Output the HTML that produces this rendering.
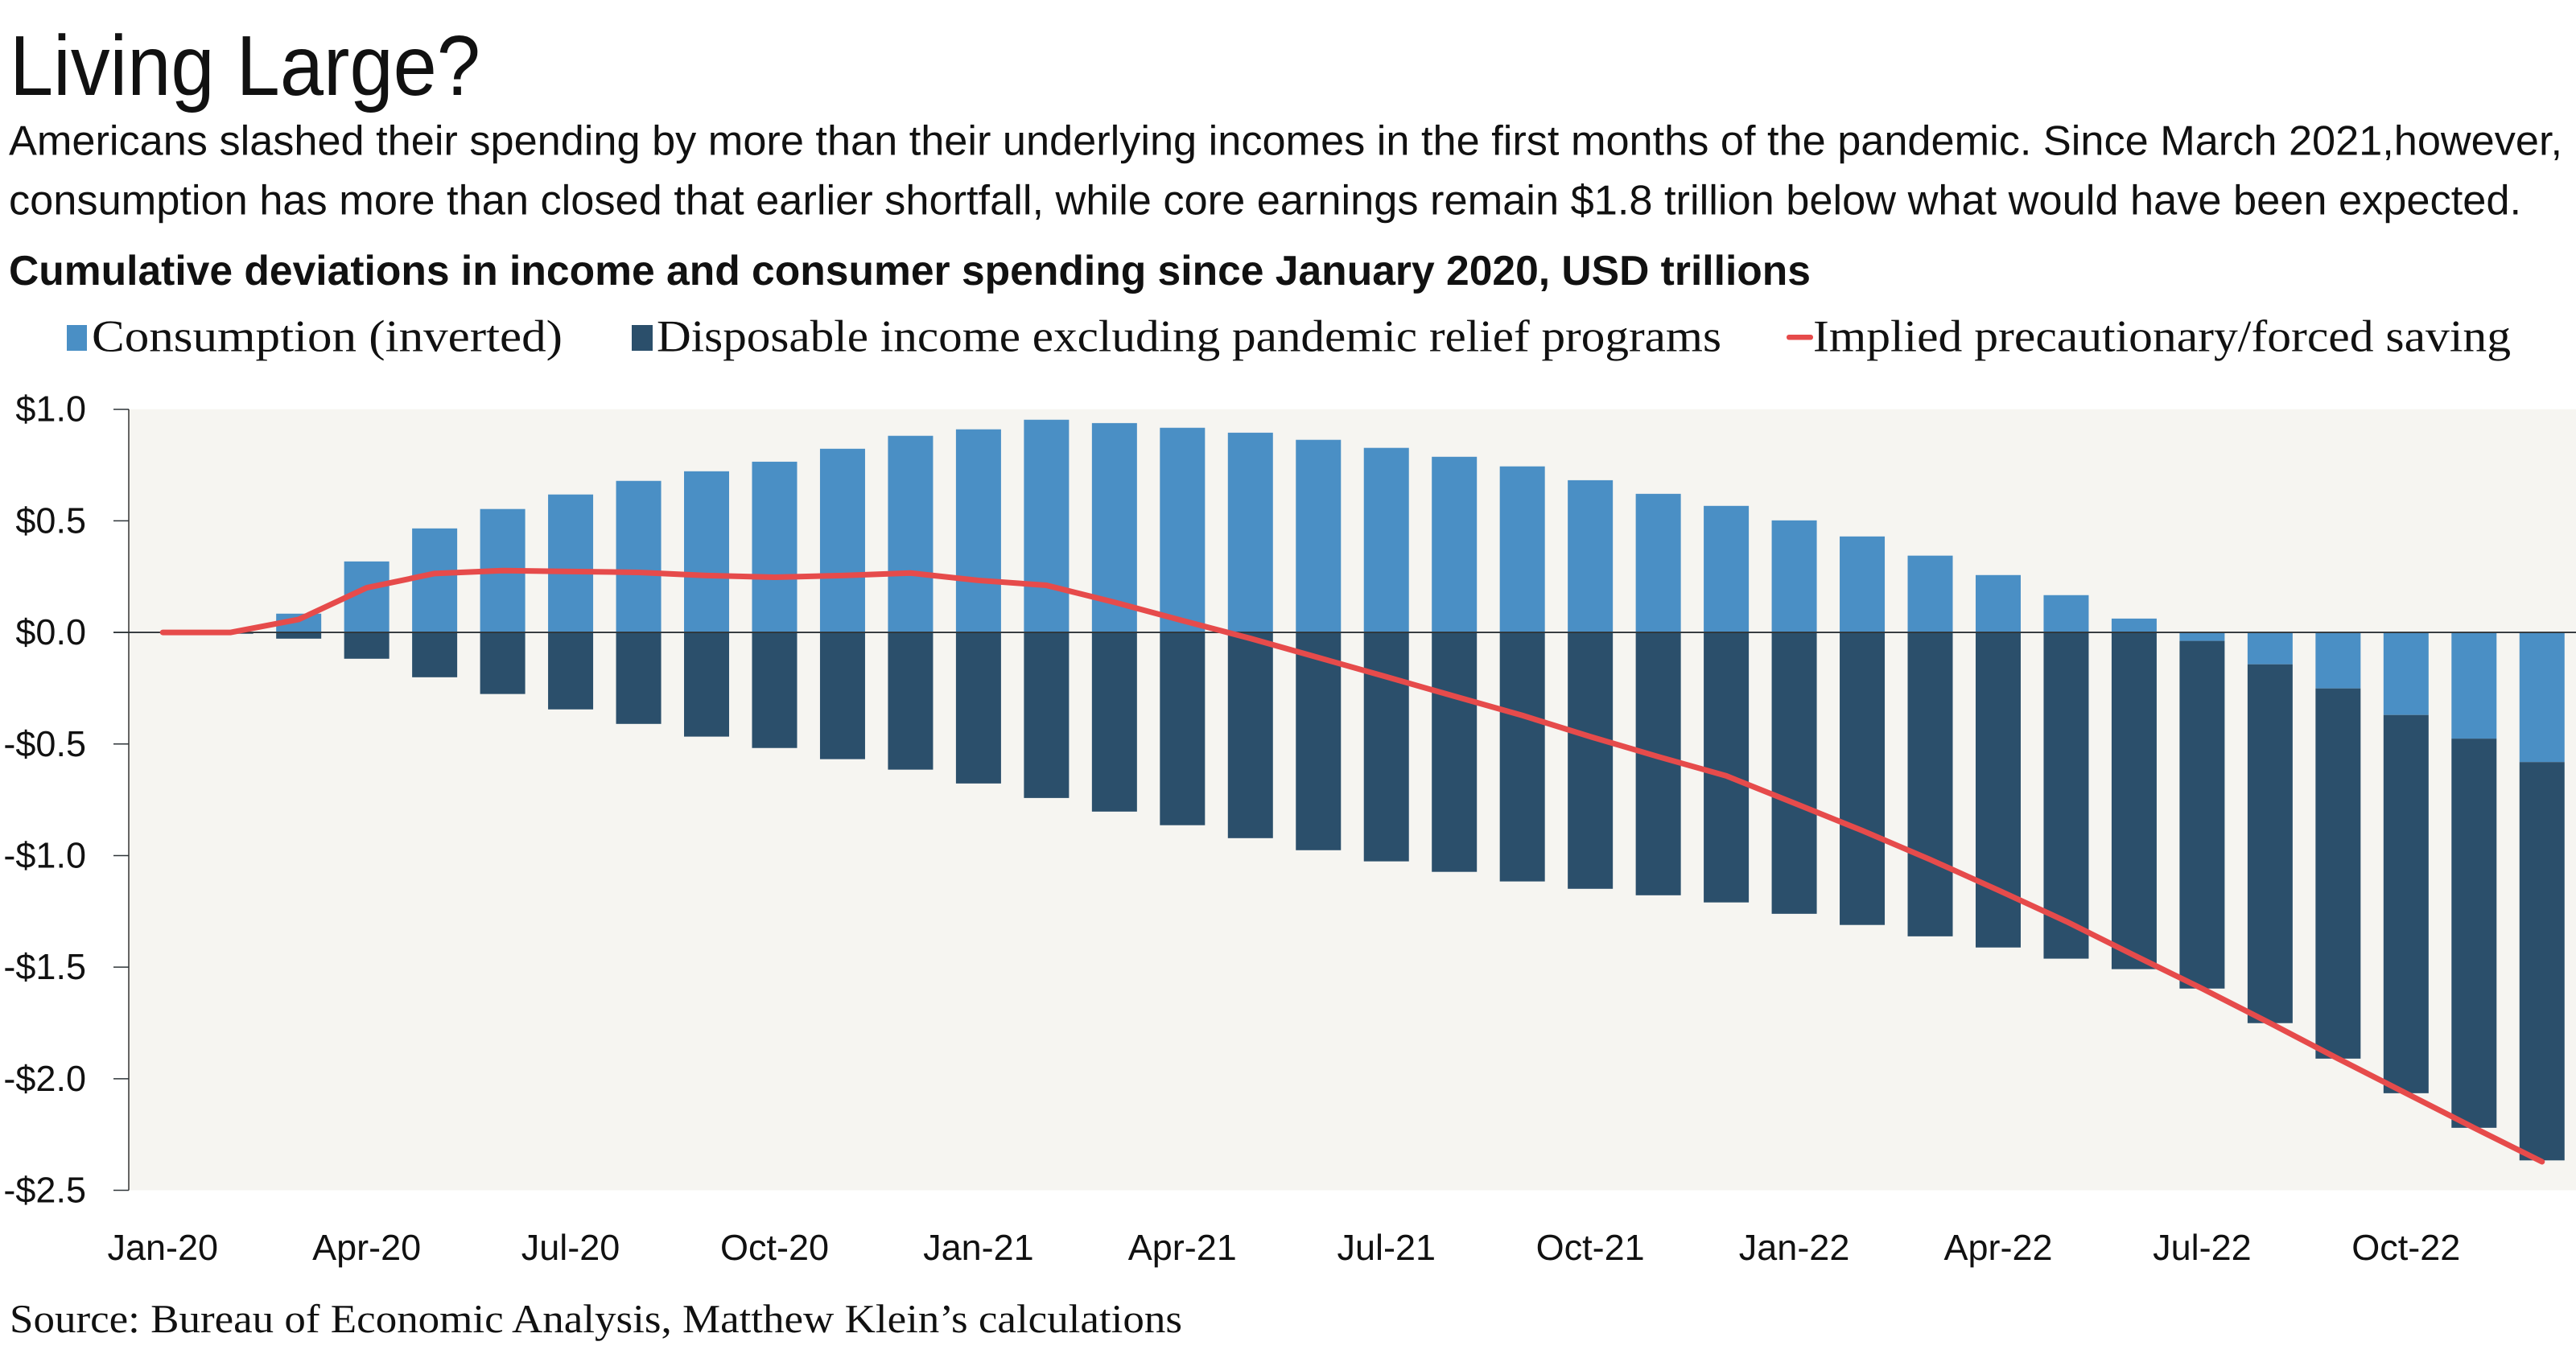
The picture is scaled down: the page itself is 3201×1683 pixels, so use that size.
<!DOCTYPE html>
<html lang="en">
<head>
<meta charset="utf-8">
<title>Living Large?</title>
<style>
  html, body { margin: 0; padding: 0; background: #ffffff; }
  svg { display: block; }
  text { text-rendering: geometricPrecision; }
  .sans { font-family: "Liberation Sans", sans-serif; fill: #111111; }
  .serif { font-family: "Liberation Serif", serif; fill: #111111; }
</style>
</head>
<body>
<svg id="chart" xmlns="http://www.w3.org/2000/svg" width="3201" height="1683" viewBox="0 0 3201 1683">
  <rect x="0" y="0" width="3201" height="1683" fill="#ffffff"/>

  <text class="sans" x="12" y="118" font-size="106" textLength="585" lengthAdjust="spacingAndGlyphs">Living Large?</text>
  <text class="sans" x="11" y="192.5" font-size="52" textLength="3173" lengthAdjust="spacingAndGlyphs">Americans slashed their spending by more than their underlying incomes in the first months of the pandemic. Since March 2021,however,</text>
  <text class="sans" x="11" y="266.5" font-size="52" textLength="3122" lengthAdjust="spacingAndGlyphs">consumption has more than closed that earlier shortfall, while core earnings remain $1.8 trillion below what would have been expected.</text>
  <text class="sans" x="11" y="354" font-size="52" font-weight="700" textLength="2239" lengthAdjust="spacingAndGlyphs">Cumulative deviations in income and consumer spending since January 2020, USD trillions</text>

  <g>
    <rect x="83" y="404" width="25" height="32" fill="#4a8fc5"/>
    <text class="serif" x="114" y="436.5" font-size="56" textLength="585" lengthAdjust="spacingAndGlyphs">Consumption (inverted)</text>
    <rect x="785" y="404" width="26" height="32" fill="#2b4f6b"/>
    <text class="serif" x="816" y="436.5" font-size="56" textLength="1323" lengthAdjust="spacingAndGlyphs">Disposable income excluding pandemic relief programs</text>
    <rect x="2220" y="416" width="33" height="6.5" rx="3" fill="#e64b4b"/>
    <text class="serif" x="2253" y="436.5" font-size="56" textLength="867" lengthAdjust="spacingAndGlyphs">Implied precautionary/forced saving</text>
  </g>

  <rect x="160" y="508.7" width="3041" height="970.8" fill="#f6f5f1"/>
  <g id="bars"></g>
  <g id="axes"></g>
  <g id="lineLayer"></g>

  <text class="serif" x="12" y="1656" font-size="50" textLength="1457" lengthAdjust="spacingAndGlyphs">Source: Bureau of Economic Analysis, Matthew Klein’s calculations</text>
</svg>

<script>
const categories = [
  "Jan-20","Feb-20","Mar-20","Apr-20","May-20","Jun-20","Jul-20","Aug-20","Sep-20","Oct-20","Nov-20","Dec-20",
  "Jan-21","Feb-21","Mar-21","Apr-21","May-21","Jun-21","Jul-21","Aug-21","Sep-21","Oct-21","Nov-21","Dec-21",
  "Jan-22","Feb-22","Mar-22","Apr-22","May-22","Jun-22","Jul-22","Aug-22","Sep-22","Oct-22","Nov-22","Dec-22"
];
const consumption = [
  0, 0, 0.084, 0.318, 0.466, 0.553, 0.618, 0.679, 0.722, 0.765, 0.823, 0.881,
  0.910, 0.953, 0.938, 0.917, 0.895, 0.863, 0.827, 0.787, 0.744, 0.682, 0.621, 0.567,
  0.502, 0.430, 0.344, 0.257, 0.167, 0.062, -0.038, -0.143, -0.251, -0.370, -0.476, -0.581
];
const income = [
  0, -0.006, -0.028, -0.118, -0.201, -0.276, -0.345, -0.410, -0.467, -0.518, -0.568, -0.615,
  -0.677, -0.742, -0.803, -0.864, -0.922, -0.976, -1.026, -1.073, -1.116, -1.149, -1.178, -1.210,
  -1.261, -1.311, -1.362, -1.412, -1.462, -1.509, -1.558, -1.608, -1.659, -1.695, -1.744, -1.785
];
const saving = [
  0, 0, 0.058, 0.200, 0.264, 0.277, 0.273, 0.269, 0.255, 0.247, 0.255, 0.266,
  0.233, 0.211, 0.135, 0.053, -0.027, -0.113, -0.199, -0.286, -0.372, -0.467, -0.557, -0.643,
  -0.765, -0.888, -1.018, -1.155, -1.295, -1.447, -1.596, -1.751, -1.910, -2.065, -2.220, -2.372
];
const yTickValues = [1.0, 0.5, 0.0, -0.5, -1.0, -1.5, -2.0, -2.5];
const yTickLabels = ["$1.0", "$0.5", "$0.0", "-$0.5", "-$1.0", "-$1.5", "-$2.0", "-$2.5"];
const xTickLabels = ["Jan-20","Apr-20","Jul-20","Oct-20","Jan-21","Apr-21","Jul-21","Oct-21","Jan-22","Apr-22","Jul-22","Oct-22"];

const SVG_NS = "http://www.w3.org/2000/svg";
const PLOT_LEFT = 160;
const PLOT_RIGHT = 3201;
const PLOT_TOP = 508.7;
const PLOT_BOTTOM = 1479.5;
const Y_MAX = 1.0;
const Y_MIN = -2.5;
const BAND = (PLOT_RIGHT - PLOT_LEFT) / categories.length;
const BAR_WIDTH = 56;

function xScale(index) {
  return PLOT_LEFT + (index + 0.5) * BAND;
}
function yScale(value) {
  return PLOT_TOP + (Y_MAX - value) / (Y_MAX - Y_MIN) * (PLOT_BOTTOM - PLOT_TOP);
}
function make(tag, attrs, parent) {
  const el = document.createElementNS(SVG_NS, tag);
  Object.keys(attrs).forEach(function (k) { el.setAttribute(k, attrs[k]); });
  parent.appendChild(el);
  return el;
}

const barsLayer = document.getElementById("bars");
const axesLayer = document.getElementById("axes");
const lineLayer = document.getElementById("lineLayer");

categories.forEach(function (cat, i) {
  let posBase = 0;
  let negBase = 0;

  function stacked(value, color) {
    if (value === 0) return null;
    const from = value > 0 ? posBase : negBase;
    const to = from + value;
    if (value > 0) posBase = to; else negBase = to;
    const top = yScale(Math.max(from, to));
    const bottom = yScale(Math.min(from, to));
    return make("rect", {
      x: xScale(i) - BAR_WIDTH / 2,
      y: top,
      width: BAR_WIDTH,
      height: bottom - top,
      fill: color
    }, barsLayer);
  }

  const cBar = stacked(consumption[i], "#4a8fc5");
  if (cBar) {
    
    
  }
  const dBar = stacked(income[i], "#2b4f6b");
  if (dBar) {
    
    
  }
});

const yAxisLine = make("line", { x1: PLOT_LEFT, x2: PLOT_LEFT, y1: PLOT_TOP, y2: PLOT_BOTTOM, stroke: "#333333", "stroke-width": 1.5 }, axesLayer);



yTickValues.forEach(function (value, i) {
  const y = yScale(value);
  const isZero = value === 0;
  const tick = make("line", {
    x1: 141,
    x2: isZero ? PLOT_RIGHT : PLOT_LEFT,
    y1: y,
    y2: y,
    stroke: "#2e3438",
    "stroke-width": isZero ? 1.8 : 1.5
  }, axesLayer);
  
  

  const label = make("text", {
    x: 107,
    y: y + 15,
    "text-anchor": "end",
    "font-size": 45,
    class: "sans"
  }, axesLayer);
  label.textContent = yTickLabels[i];
  
  
});

xTickLabels.forEach(function (text) {
  const index = categories.indexOf(text);
  const label = make("text", {
    x: xScale(index),
    y: 1566,
    "text-anchor": "middle",
    "font-size": 45,
    class: "sans"
  }, axesLayer);
  label.textContent = text;
  
  
});

const points = saving.map(function (value, i) {
  return xScale(i).toFixed(2) + "," + yScale(value).toFixed(2);
}).join(" ");
const savingLine = make("polyline", {
  points: points,
  fill: "none",
  stroke: "#e64b4b",
  "stroke-width": 7,
  "stroke-linejoin": "round",
  "stroke-linecap": "round"
}, lineLayer);


</script>
</body>
</html>
